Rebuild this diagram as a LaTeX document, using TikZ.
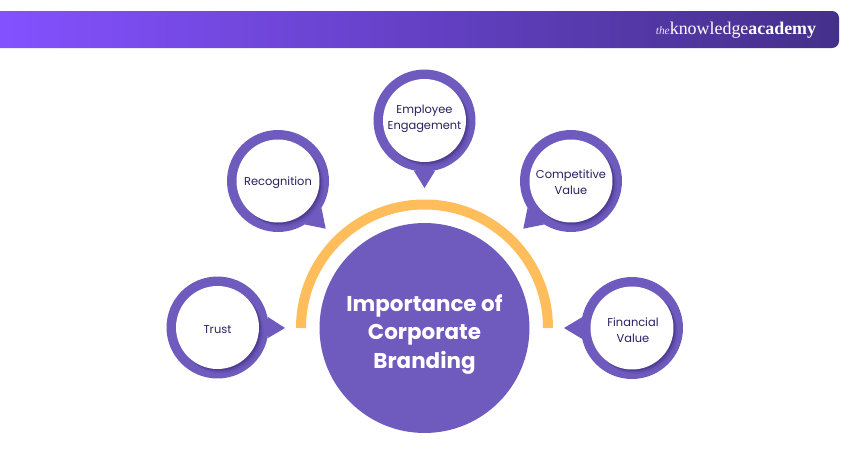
\documentclass[tikz,border=0pt]{standalone}
\usepackage{fontspec}
\setmainfont{Poppins}
\newfontfamily\logofont{Liberation Serif}
\usetikzlibrary{shadows}
\definecolor{ringpurple}{HTML}{6F5ABD}
\definecolor{shadowpurple}{HTML}{2F2268}
\definecolor{labelink}{HTML}{2B1F5E}
\definecolor{arcorange}{HTML}{FFBD5B}
\definecolor{logolight}{HTML}{E6DEF5}
\definecolor{bannerleft}{HTML}{8451FF}
\definecolor{bannermid}{HTML}{683EC8}
\definecolor{bannerright}{HTML}{44308A}

\begin{document}
\begin{tikzpicture}[x=0.02cm,y=0.02cm]
\tikzstyle{every node}+=[inner sep=0pt]
\tikzstyle{ring}=[circle, fill=ringpurple, minimum size=2.04cm]
\tikzstyle{bubble}=[circle, fill=white, minimum size=1.66cm,
  general shadow={fill=shadowpurple, opacity=0.10, shadow xshift=0.08cm, shadow yshift=-0.08cm, shadow scale=1.01},
  general shadow={fill=shadowpurple, opacity=0.18, shadow xshift=0.055cm, shadow yshift=-0.055cm},
  general shadow={fill=shadowpurple, opacity=0.30, shadow xshift=0.03cm, shadow yshift=-0.03cm}]
\tikzstyle{bubbletext}=[align=center, text=labelink, font=\fontsize{6.5}{9}\selectfont]
\tikzstyle{pointer}=[fill=ringpurple]
\useasboundingbox (0,0) rectangle (850,-450);
\fill [white] (0,0) rectangle (850,-450);
% banner
\shade [left color=bannerleft, middle color=bannermid, right color=bannerright]
  (0,-11) {[rounded corners=0.14cm] -- (839,-11) -- (839,-48)} -- (0,-48) -- cycle;
\node [anchor=west, text=white, font=\logofont\fontsize{10.2}{12}\selectfont] (logo) at (655.5,-30.5)
  {{\color{logolight}\fontsize{6.5}{8}\selectfont\itshape the}knowledge\textbf{academy}};
% centre
\draw [arcorange, line width=0.2cm] (301,-328) arc (180:0:123.5);
\node [circle, fill=ringpurple, minimum size=4.2cm] (branding) at (424.5,-328) {};
\node [text=white, align=center, font=\fontsize{12.2}{16.4}\selectfont\bfseries] (brandingtext) at (424.5,-334.5)
  {Importance of\\Corporate\\Branding};
% trust
\node [ring] (trustring) at (217.5,-327.5) {};
\coordinate (trusttip) at (285,-328);
\fill [pointer] (trustring.12) -- (trusttip) -- (trustring.-12) -- cycle;
\node [bubble] (trust) at (trustring.center) {};
\node [bubbletext] (trusttext) at (217.5,-330) {Trust};
% recognition
\node [ring] (recognitionring) at (278,-181) {};
\coordinate (recognitiontip) at (325.7,-228.7);
\fill [pointer] (recognitionring.-32) -- (recognitiontip) -- (recognitionring.-58) -- cycle;
\node [bubble] (recognition) at (recognitionring.center) {};
\node [bubbletext] (recognitiontext) at (278,-182.5) {Recognition};
% employee
\node [ring] (employeering) at (424.5,-120.5) {};
\coordinate (employeetip) at (424.5,-188);
\fill [pointer] (employeering.-78) -- (employeetip) -- (employeering.-102) -- cycle;
\node [bubble] (employee) at (employeering.center) {};
\node [bubbletext] (employeetext) at (424.5,-119) {Employee\\Engagement};
% competitive
\node [ring] (competitivering) at (571,-181) {};
\coordinate (competitivetip) at (523.3,-228.7);
\fill [pointer] (competitivering.-122) -- (competitivetip) -- (competitivering.-148) -- cycle;
\node [bubble] (competitive) at (competitivering.center) {};
\node [bubbletext] (competitivetext) at (571,-182) {Competitive\\Value};
% financial
\node [ring] (financialring) at (632,-328) {};
\coordinate (financialtip) at (564,-328);
\fill [pointer] (financialring.168) -- (financialtip) -- (financialring.192) -- cycle;
\node [bubble] (financial) at (financialring.center) {};
\node [bubbletext] (financialtext) at (633,-330) {Financial\\Value};
\end{tikzpicture}
\end{document}
